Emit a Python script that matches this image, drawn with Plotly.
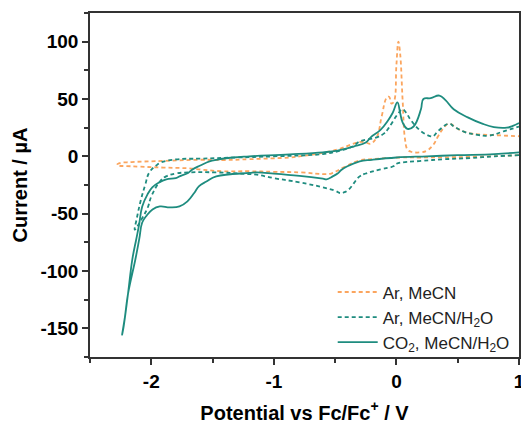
import plotly.graph_objects as go

# Cyclic voltammograms: potential (V vs Fc/Fc+) and current (µA)
ar_mecn_E = [1.0, 0.6, 0.2, 0.03, -0.2, -0.3, -0.43, -0.52, -0.56, -0.78, -1.0, -1.2, -1.42,
             -1.6, -1.69, -1.9, -2.1, -2.2, -2.26, -2.28, -2.26, -2.16, -1.9, -1.6, -1.4,
             -1.2, -0.87, -0.79, -0.6, -0.48, -0.35, -0.3, -0.25, -0.21, -0.16, -0.12,
             -0.08, -0.06, -0.04, -0.02, 0.0, 0.016, 0.03, 0.05, 0.07, 0.09, 0.12, 0.2,
             0.25, 0.3, 0.34, 0.38, 0.43, 0.5, 0.6, 0.7, 0.8, 1.0]
ar_mecn_I = [1, -0.5, -1, -1, -2.5, -3.5, -9.6, -14.5, -15.5, -14, -13.5, -13, -13,
             -11.5, -10.5, -9.8, -9, -8.5, -8.2, -7.5, -6, -5, -4, -3, -3.2,
             -2.5, -1, 0, 3, 6, 11, 12.5, 12, 11, 17, 35,
             51, 52, 46, 48, 80, 100, 90, 50, 15, 6, 4, 3.5,
             5, 10, 17.5, 24, 28.5, 24, 20, 19, 18.5, 17.5]

ar_h2o_E = [1.0, 0.8, 0.6, 0.385, 0.2, 0.0, -0.025, -0.13, -0.25, -0.3, -0.39, -0.43, -0.46,
            -0.5, -0.6, -0.79, -1.0, -1.14, -1.2, -1.47, -1.69, -1.8, -1.88, -1.93, -2.0,
            -2.03, -2.08, -2.12, -2.135, -2.12, -2.084, -2.05, -2.016, -1.96, -1.918,
            -1.795, -1.6, -1.3, -1.0, -0.6, -0.48, -0.35, -0.3, -0.16, -0.1, -0.07, 0.01,
            0.05, 0.08, 0.115, 0.2, 0.28, 0.3, 0.34, 0.43, 0.47, 0.55, 0.65, 0.75, 0.88, 1.0]
ar_h2o_I = [1, 0, -1.5, -2.6, -4, -6.5, -8.7, -11.4, -15, -17.5, -29, -31.5, -32,
            -30, -27, -22.7, -19, -16, -15.5, -14, -14, -15, -17.5, -22, -35,
            -45, -55, -62, -64, -55, -37.6, -25, -14, -8, -5.2,
            -2.6, -2, -1, 0, 2, 4.4, 9, 13, 16.6, 20, 23.6, 36.7,
            41, 38, 32, 22, 17.5, 17.5, 22, 28.5, 26, 21.5, 19, 18, 22, 26]

co2_h2o_E = [1.0, 0.8, 0.5, 0.25, 0.0, -0.2, -0.3, -0.4, -0.45, -0.48, -0.52, -0.57, -0.6,
             -0.79, -1.0, -1.14, -1.2, -1.47, -1.55, -1.61, -1.65, -1.705, -1.77, -1.85,
             -1.93, -1.99, -2.04, -2.074, -2.098, -2.13, -2.19, -2.215, -2.238, -2.225,
             -2.19, -2.155, -2.123, -2.1, -2.074, -2.03, -1.992, -1.94, -1.877, -1.8,
             -1.77, -1.7, -1.664, -1.6, -1.525, -1.47, -1.336, -1.2, -0.87, -0.6, -0.48,
             -0.35, -0.25, -0.21, -0.13, -0.07, -0.03, 0.008, 0.03, 0.05, 0.09, 0.14, 0.2,
             0.22, 0.28, 0.35, 0.4, 0.467, 0.582, 0.7, 0.795, 0.9, 0.95, 1.0]
co2_h2o_I = [3.5, 2, 1, 0, -1, -3, -4.4, -8.7, -12, -15, -17.5, -20, -19.5,
             -17, -15, -14, -14.5, -17.5, -22, -26, -32, -39.3, -43.7, -44.5,
             -43.7, -46.3, -52, -57.7, -72, -90, -120, -140, -155.6, -148,
             -120, -90, -72.5, -60, -43.7, -33, -27, -23, -20, -19,
             -17.5, -14.5, -11.4, -8, -4.4, -3, -1, 0, 1.7, 3.5, 5,
             8.5, 12, 16.6, 23, 31, 38, 47, 38, 29.7, 24, 26, 41,
             50, 50.7, 53, 49, 41, 34, 28.5, 25.5, 25, 26.5, 29]

series_names = ["Ar, MeCN", "Ar, MeCN/H<sub>2</sub>O", "CO<sub>2</sub>, MeCN/H<sub>2</sub>O"]

# Tick positions and labels (plain hyphen for negatives)
x_ticks = [-2, -1, 0, 1]
x_labels = ["-2", "-1", "0", "1"]
y_ticks = [-150, -100, -50, 0, 50, 100]
y_labels = ["-150", "-100", "-50", "0", "50", "100"]

ORANGE = "#FBA55E"
TEAL = "#1E8C7F"
FONT = "Liberation Sans, Arial, sans-serif"

fig = go.Figure()
fig.add_trace(go.Scatter(x=ar_mecn_E, y=ar_mecn_I, mode="lines", name=series_names[0],
                         line=dict(color=ORANGE, width=1.8, dash="4px,3px",
                                   shape="spline", smoothing=1.2)))
fig.add_trace(go.Scatter(x=ar_h2o_E, y=ar_h2o_I, mode="lines", name=series_names[1],
                         line=dict(color=TEAL, width=1.8, dash="4px,3px",
                                   shape="spline", smoothing=1.2)))
fig.add_trace(go.Scatter(x=co2_h2o_E, y=co2_h2o_I, mode="lines", name=series_names[2],
                         line=dict(color=TEAL, width=1.8, shape="spline", smoothing=1.2)))

tick_font = dict(family=FONT, size=19, color="black", weight="bold")
title_font = dict(family=FONT, size=20, color="black")
common = dict(showline=True, linecolor="#333333", linewidth=1.5, mirror=True,
              ticks="outside", ticklen=6, tickwidth=1.5, tickcolor="#333333",
              showgrid=False, zeroline=False, tickfont=tick_font,
              ticklabeloverflow="allow")

fig.update_xaxes(range=[-2.5, 1.0], tickmode="array", tickvals=x_ticks, ticktext=x_labels,
                 minor=dict(tickmode="linear", tick0=-2.5, dtick=0.5, ticks="outside",
                            ticklen=4, tickwidth=1.5, tickcolor="#333333"),
                 title=dict(text="<b>Potential vs Fc/Fc<sup>+</sup> / V</b>", font=title_font),
                 automargin=False, **common)
fig.update_yaxes(range=[-175, 125], tickmode="array", tickvals=y_ticks, ticktext=y_labels,
                 minor=dict(tickmode="linear", tick0=0, dtick=25, ticks="outside",
                            ticklen=4, tickwidth=1.5, tickcolor="#333333"),
                 title=dict(text="<b>Current / µA</b>", font=title_font, standoff=7),
                 automargin=True, **common)

fig.update_layout(
    width=521, height=425,
    margin=dict(l=90, r=0, t=13, b=68),
    paper_bgcolor="white", plot_bgcolor="white",
    font=dict(family=FONT, color="black"),
    legend=dict(x=0.99, y=-0.01, xanchor="right", yanchor="bottom",
                bgcolor="rgba(0,0,0,0)", font=dict(size=17, color="#222222"),
                tracegroupgap=0, itemwidth=40),
    showlegend=True,
)

fig.write_html("out.html")
